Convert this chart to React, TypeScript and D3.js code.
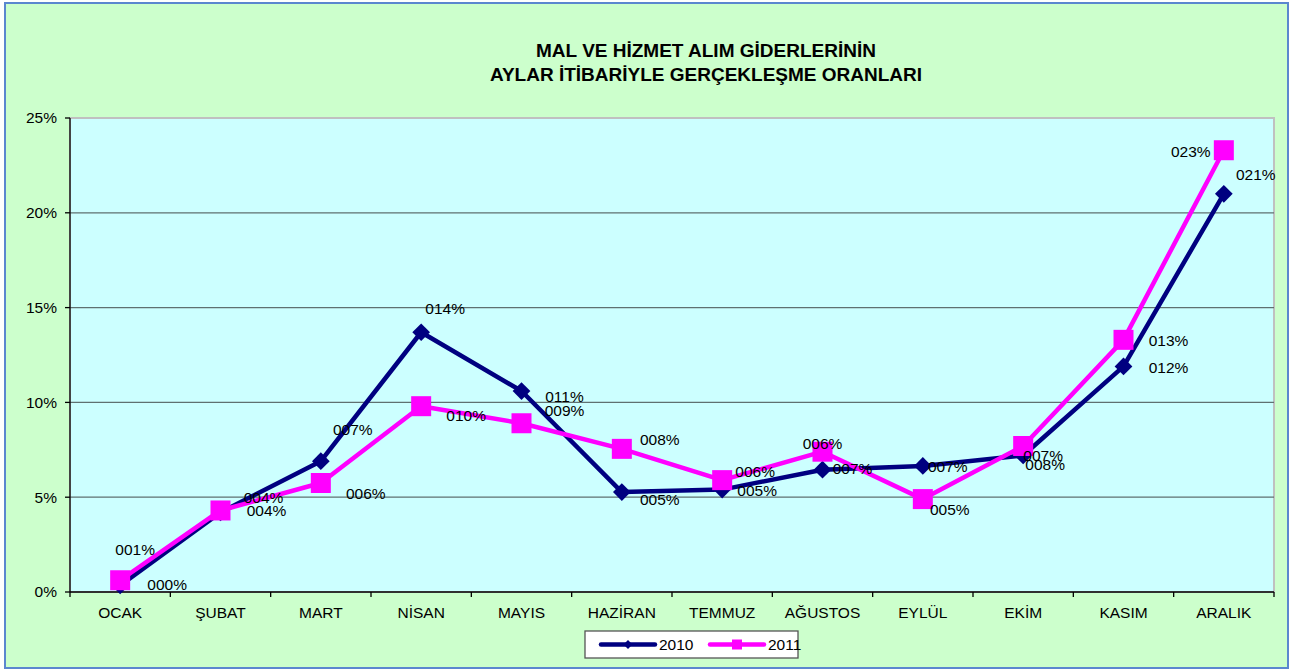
import React from "react";
import * as d3 from "d3";

const months = ["OCAK", "ŞUBAT", "MART", "NİSAN", "MAYIS", "HAZİRAN", "TEMMUZ", "AĞUSTOS", "EYLÜL", "EKİM", "KASIM", "ARALIK"];
const values2010 = [0.0035, 0.042, 0.069, 0.137, 0.106, 0.0527, 0.054, 0.0645, 0.0665, 0.072, 0.119, 0.21];
const values2011 = [0.0062, 0.043, 0.0575, 0.098, 0.089, 0.0755, 0.059, 0.074, 0.049, 0.077, 0.133, 0.233];
const yTicks = [0, 0.05, 0.1, 0.15, 0.2, 0.25];
const titleLines = ["MAL VE HİZMET ALIM GİDERLERİNİN", "AYLAR İTİBARİYLE GERÇEKLEŞME ORANLARI"];

// label nudges (px) so the data labels sit where they were dragged in the original
const nudge2010 = [[47, -1], [43, -15], [32, -32], [24, -24], [43, 6], [38, 7], [35, 1], [0, -26], [25, 1], [20, 0], [45, 1], [32, -19]];
const nudge2011 = [[15, -31], [46, 0], [45, 11], [45, 9], [43, -13], [38, -9], [33, -9], [30, 17], [27, 10], [22, 19], [45, 1], [-33, 1]];

const W = 1301;
const H = 670;
const margin = { left: 70, right: 1274, top: 118, bottom: 592 };
const font = "Arial, 'Liberation Sans', sans-serif";
const navy = "#000080";
const pink = "#FF00FF";
const fs = 15.5;

const fmt = (v: number) => String(Math.round(v * 100)).padStart(3, "0") + "%";

export default function App() {
  const x = d3.scaleBand().domain(months).range([margin.left, margin.right]);
  const y = d3.scaleLinear().domain([0, 0.25]).range([margin.bottom, margin.top]);
  const cx = (m: string) => (x(m) as number) + x.bandwidth() / 2;

  const line = d3.line<number>()
    .x((_, i) => cx(months[i]))
    .y(d => y(d));

  const diamond = d3.symbol().type(d3.symbolDiamond2).size(200)();
  const square = d3.symbol().type(d3.symbolSquare).size(400)();

  return (
    <svg width={W} height={H} style={{ position: "absolute", left: 0, top: 0 }} fontFamily={font}>
      {/* chart area */}
      <rect x={5} y={3} width={1283} height={665} fill="#CCFFCC" stroke="#5B87CF" strokeWidth={2} />
      <rect x={margin.left} y={margin.top} width={margin.right - margin.left} height={margin.bottom - margin.top}
        fill="#CCFFFF" stroke="#C0C0C0" strokeWidth={2} />

      {/* title */}
      {titleLines.map((t, i) => (
        <text key={t} x={706} y={57 + i * 24} textAnchor="middle" fontSize={19} fontWeight="bold" fill="#000">{t}</text>
      ))}

      {/* gridlines */}
      {yTicks.filter(t => t > 0 && t < 0.25).map(t => (
        <line key={t} x1={margin.left} x2={margin.right} y1={y(t)} y2={y(t)} stroke="#5F7070" strokeWidth={1.3} />
      ))}

      {/* y axis */}
      <line x1={margin.left} x2={margin.left} y1={margin.top} y2={margin.bottom} stroke="#000" strokeWidth={1.3} />
      {yTicks.map(t => (
        <g key={t}>
          <line x1={margin.left - 5} x2={margin.left} y1={y(t)} y2={y(t)} stroke="#000" strokeWidth={1.3} />
          <text x={margin.left - 13} y={y(t)} dy="0.35em" textAnchor="end" fontSize={fs} fill="#000">{d3.format(".0%")(t)}</text>
        </g>
      ))}

      {/* x axis */}
      <line x1={margin.left} x2={margin.right} y1={margin.bottom} y2={margin.bottom} stroke="#000" strokeWidth={1.3} />
      {months.map(m => (
        <line key={m} x1={x(m)} x2={x(m)} y1={margin.bottom} y2={margin.bottom + 5} stroke="#000" strokeWidth={1.3} />
      ))}
      <line x1={margin.right} x2={margin.right} y1={margin.bottom} y2={margin.bottom + 5} stroke="#000" strokeWidth={1.3} />
      {months.map(m => (
        <text key={m} x={cx(m)} y={618} textAnchor="middle" fontSize={fs} fill="#000">{m}</text>
      ))}

      {/* series 2010 */}
      <path d={line(values2010) ?? ""} fill="none" stroke={navy} strokeWidth={4.5} strokeLinejoin="round" />
      {values2010.map((v, i) => (
        <path key={i} d={diamond ?? ""} transform={`translate(${cx(months[i])},${y(v)})`} fill={navy} />
      ))}

      {/* series 2011 */}
      <path d={line(values2011) ?? ""} fill="none" stroke={pink} strokeWidth={4.5} strokeLinejoin="round" />
      {values2011.map((v, i) => (
        <path key={i} d={square ?? ""} transform={`translate(${cx(months[i])},${y(v)})`} fill={pink} />
      ))}

      {/* data labels */}
      {values2010.map((v, i) => (
        <text key={"a" + i} x={cx(months[i]) + nudge2010[i][0]} y={y(v) + nudge2010[i][1]} dy="0.35em"
          textAnchor="middle" fontSize={fs} fill="#000">{fmt(v)}</text>
      ))}
      {values2011.map((v, i) => (
        <text key={"b" + i} x={cx(months[i]) + nudge2011[i][0]} y={y(v) + nudge2011[i][1]} dy="0.35em"
          textAnchor="middle" fontSize={fs} fill="#000">{fmt(v)}</text>
      ))}

      {/* legend */}
      <rect x={585} y={631} width={213} height={27} fill="#fff" stroke="#555" strokeWidth={1.3} />
      <line x1={601} x2={655} y1={644.5} y2={644.5} stroke={navy} strokeWidth={4.5} strokeLinecap="round" />
      <path d={d3.symbol().type(d3.symbolDiamond2).size(50)() ?? ""} transform="translate(628,644.5)" fill={navy} />
      <text x={659} y={644.5} dy="0.35em" fontSize={fs} fill="#000">2010</text>
      <line x1={710} x2={764} y1={644.5} y2={644.5} stroke={pink} strokeWidth={4.5} strokeLinecap="round" />
      <path d={d3.symbol().type(d3.symbolSquare).size(100)() ?? ""} transform="translate(737,644.5)" fill={pink} />
      <text x={768} y={644.5} dy="0.35em" fontSize={fs} fill="#000">2011</text>
    </svg>
  );
}
